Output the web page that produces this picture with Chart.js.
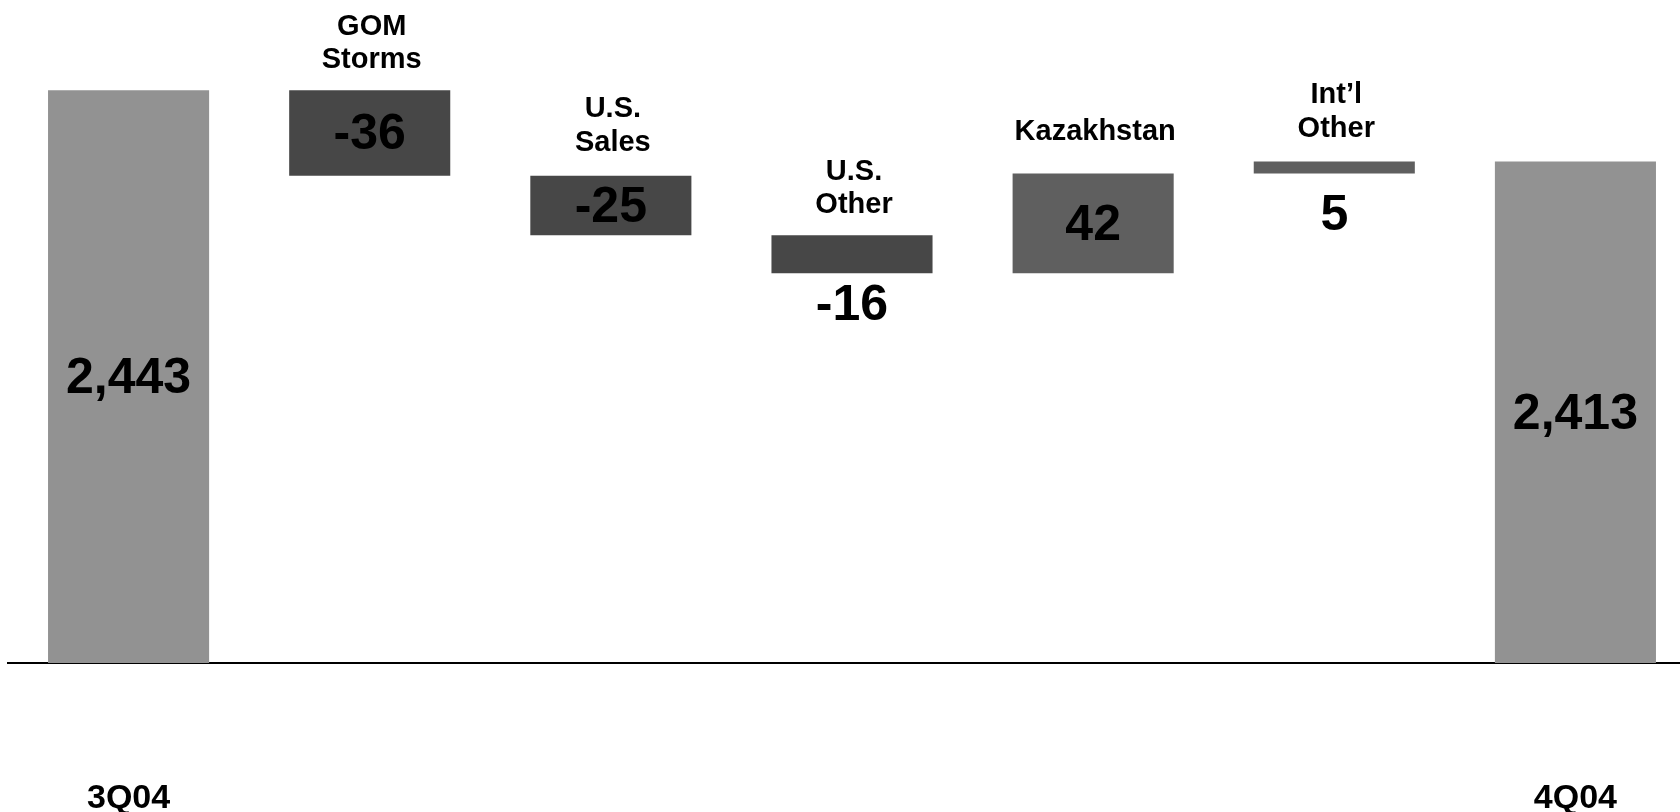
<!DOCTYPE html>
<html>
<head>
<meta charset="utf-8">
<script src="https://cdn.jsdelivr.net/npm/chart.js@4/dist/chart.umd.min.js"></script>
<style>
  html, body { margin: 0; padding: 0; background: #ffffff; overflow: hidden; width: 1680px; height: 812px; }
  #wrap { position: absolute; left: 0; top: 0; width: 1696px; height: 812px; }
</style>
</head>
<body>
<div id="wrap"><canvas id="c" width="1696" height="812"></canvas></div>
<script>
// ---- data ----
const categories = ['3Q04', 'GOM Storms', 'U.S. Sales', 'U.S. Other', 'Kazakhstan', 'Int\u2019l Other', '4Q04'];
const categoryLines = [['3Q04'], ['GOM', 'Storms'], ['U.S.', 'Sales'], ['U.S.', 'Other'], ['Kazakhstan'], ['Int\u2019l', 'Other'], ['4Q04']];
const startValue = 2443;
const changes = [-36, -25, -16, 42, 5];
const endValue = 2413;
const valueLabels = ['2,443', '-36', '-25', '-16', '42', '5', '2,413'];
const axisTickLabels = ['3Q04', '', '', '', '', '', '4Q04'];
const yRange = [2202, 2481];

// waterfall segments built from the values above
const barData = [startValue];
let running = startValue;
for (const ch of changes) { barData.push([running, running + ch]); running += ch; }
barData.push(endValue);

// ---- styling ----
const barColors = ['#929292', '#474747', '#474747', '#474747', '#5f5f5f', '#5f5f5f', '#929292'];
const FONT = '"Liberation Sans", Arial, Helvetica, sans-serif';
const valueBelowGap = [null, null, null, 33, null, 43, null];   // value text placed under the bar
const nameLift = [0, 30, 33, 30, 41, 33, 0];                     // name text distance above bar top

const labelPlugin = {
  id: 'waterfallLabels',
  afterDatasetsDraw(chart) {
    const ctx = chart.ctx;
    const yScale = chart.scales.y;
    ctx.save();
    ctx.fillStyle = '#000';
    ctx.textAlign = 'center';
    ctx.textBaseline = 'middle';
    const meta = chart.getDatasetMeta(0);
    meta.data.forEach((el, i) => {
      const d = barData[i];
      const v0 = Array.isArray(d) ? d[0] : yRange[0];
      const v1 = Array.isArray(d) ? d[1] : d;
      const p0 = yScale.getPixelForValue(v0);
      const p1 = yScale.getPixelForValue(v1);
      const top = Math.min(p0, p1);
      const bottom = Math.max(p0, p1);
      const x = el.x;
      if (i > 0 && i < meta.data.length - 1) {
        const lines = categoryLines[i];
        ctx.font = 'bold 29px ' + FONT;
        const lh = 33.5;
        const lastY = top - nameLift[i];
        lines.forEach((ln, k) => {
          ctx.fillText(ln, x + 2, lastY - (lines.length - 1 - k) * lh);
        });
      }
      ctx.font = 'bold 50px ' + FONT;
      const vy = valueBelowGap[i] !== null ? bottom + valueBelowGap[i] : (top + bottom) / 2 + 2.5;
      ctx.fillText(valueLabels[i], x, vy);
    });
    ctx.restore();
  }
};

new Chart(document.getElementById('c'), {
  type: 'bar',
  data: {
    labels: categories,
    datasets: [{
      data: barData,
      backgroundColor: barColors,
      borderWidth: 0,
      categoryPercentage: 1,
      barPercentage: 0.668
    }]
  },
  options: {
    responsive: false,
    animation: false,
    devicePixelRatio: 1,
    layout: { padding: { left: 8, top: 0, right: 0, bottom: 0 } },
    plugins: {
      legend: { display: false },
      tooltip: { enabled: false }
    },
    scales: {
      x: {
        grid: { display: false, drawTicks: false },
        border: { display: true, color: '#000000', width: 2 },
        ticks: {
          color: '#000000',
          font: { family: FONT, size: 34, weight: 'bold' },
          padding: 115,
          maxRotation: 0,
          autoSkip: false,
          callback: (v, i) => axisTickLabels[i]
        },
        afterFit: (s) => { s.height = 149; s.paddingLeft = 0; s.paddingRight = 0; }
      },
      y: {
        display: false,
        min: yRange[0],
        max: yRange[1]
      }
    }
  },
  plugins: [labelPlugin]
});
</script>
</body>
</html>
